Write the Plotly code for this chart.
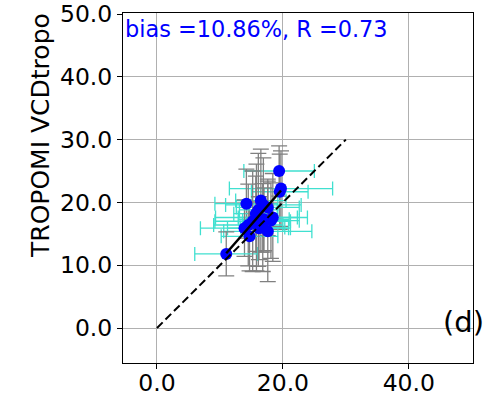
import plotly.graph_objects as go

# Data
x_vals = [19.4, 19.7, 19.5, 14.2, 16.5, 16.9, 17.6, 15.7, 17.0, 18.4, 15.8, 14.5, 13.9, 14.7, 16.8, 17.6, 16.2, 11.0, 15.2, 16.1, 18.1]
y_vals = [25.0, 22.2, 21.7, 19.8, 20.3, 19.6, 19.2, 18.2, 17.3, 17.6, 17.6, 16.4, 15.9, 14.6, 16.0, 15.4, 15.9, 11.8, 17.0, 18.8, 17.1]
x_err = [5.6, 8.2, 4.5, 5.0, 4.0, 6.0, 5.0, 3.5, 4.0, 5.5, 6.5, 5.5, 7.0, 4.5, 3.5, 7.0, 5.0, 5.0, 6.0, 3.0, 4.5]
y_err = [4.0, 6.0, 6.0, 5.5, 8.2, 7.5, 4.5, 6.0, 5.0, 7.0, 8.5, 6.5, 4.5, 5.5, 7.0, 8.0, 5.0, 3.5, 8.0, 9.0, 6.0]

fit_x = [11.0, 19.7]
fit_y = [11.9, 21.9]
one_x = [0, 30]
one_y = [0, 30]

x_ticks = [0, 20, 40]
x_tick_labels = ["0.0", "20.0", "40.0"]
y_ticks = [0, 10, 20, 30, 40, 50]
y_tick_labels = ["0.0", "10.0", "20.0", "30.0", "40.0", "50.0"]

FONT = "DejaVu Sans"

fig = go.Figure()
fig.add_trace(go.Scatter(
    x=x_vals, y=y_vals, mode="markers",
    marker=dict(color="#0000ff", size=12, line=dict(width=0)),
    error_x=dict(type="data", array=x_err, visible=True, color="#40e0d0", thickness=1.3, width=7),
    error_y=dict(type="data", array=y_err, visible=True, color="#808080", thickness=1.3, width=8),
    showlegend=False,
))
fig.add_trace(go.Scatter(x=fit_x, y=fit_y, mode="lines",
                         line=dict(color="black", width=2.5), showlegend=False))
fig.add_trace(go.Scatter(x=one_x, y=one_y, mode="lines",
                         line=dict(color="black", width=2, dash="8px,4px"), showlegend=False))

axis_common = dict(
    showgrid=True, gridcolor="#b0b0b0", gridwidth=0.8,
    showline=True, linecolor="black", linewidth=1, mirror=True,
    ticks="outside", ticklen=5, tickcolor="black", tickwidth=1,
    zeroline=False, ticklabeloverflow="allow",
    tickfont=dict(family=FONT, size=23.5, color="black"),
)

fig.update_xaxes(range=[-5.4, 50.2], tickvals=x_ticks, ticktext=x_tick_labels,
                 ticklabelstandoff=-6, **axis_common)
fig.update_yaxes(range=[-5.57, 50.16], tickvals=y_ticks, ticktext=y_tick_labels, **axis_common)

fig.add_annotation(text="bias =10.86%, R =0.73", xref="paper", yref="paper",
                   x=0.0, y=0.954, xanchor="left", yanchor="middle", showarrow=False,
                   font=dict(family=FONT, size=22.4, color="#0000ff"))
fig.add_annotation(text="(d)", xref="paper", yref="paper",
                   x=0.974, y=0.117, xanchor="center", yanchor="middle", showarrow=False,
                   font=dict(family=FONT, size=29, color="black"))
fig.add_annotation(text="TROPOMI VCDtropo", xref="paper", yref="paper",
                   x=-0.234, y=0.649, xanchor="center", yanchor="middle", showarrow=False,
                   textangle=-90, font=dict(family=FONT, size=25, color="black"))

fig.update_layout(
    width=502, height=397,
    margin=dict(l=123, r=29, t=13, b=34, autoexpand=False),
    plot_bgcolor="white", paper_bgcolor="white",
    font=dict(family=FONT),
)

fig.write_html("out.html", config={"displayModeBar": False},
               post_script="document.body.style.margin='0';document.body.style.padding='0';document.body.style.overflow='hidden';")
